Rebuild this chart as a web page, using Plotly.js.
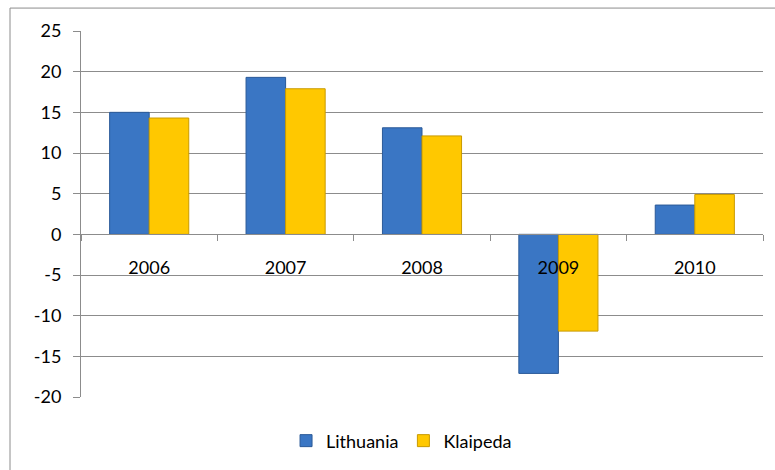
<!DOCTYPE html>
<html>
<head>
<meta charset="utf-8">
<script src="https://cdn.plot.ly/plotly-3.0.1.min.js"></script>
<style>
  html, body { margin: 0; padding: 0; background: #fff; }
  #chart { width: 775px; height: 470px; }
</style>
</head>
<body>
<div id="chart"></div>
<script>
const years = ["2006", "2007", "2008", "2009", "2010"];
const lithuania = [15.0, 19.3, 13.1, -17.1, 3.6];
const klaipeda = [14.3, 17.9, 12.1, -11.9, 4.9];

const yTicks = [-20, -15, -10, -5, 0, 5, 10, 15, 20, 25];

const font = "Lato, 'Open Sans', sans-serif";

const traces = [
  {
    type: "bar",
    name: "Lithuania",
    x: years,
    y: lithuania,
    marker: {
      color: "#3a76c4",
      line: { color: "#2b5a98", width: 1 }
    }
  },
  {
    type: "bar",
    name: "Klaipeda",
    x: years,
    y: klaipeda,
    marker: {
      color: "#ffc800",
      line: { color: "#c99a00", width: 1 }
    }
  }
];

const yMin = -20;
const yMax = 25;

const layout = {
  width: 775,
  height: 470,
  margin: { l: 81, r: 12, t: 31, b: 72 },
  paper_bgcolor: "#fff",
  plot_bgcolor: "#fff",
  font: { family: font, size: 18, color: "#000" },
  barmode: "group",
  bargap: 0.42,
  bargroupgap: 0,
  showlegend: true,
  legend: {
    orientation: "h",
    x: 0.47,
    xanchor: "center",
    y: -0.117,
    yanchor: "middle",
    font: { family: font, size: 18 },
    itemwidth: 30
  },
  xaxis: {
    type: "category",
    anchor: "free",
    position: (0 - yMin) / (yMax - yMin),
    showline: true,
    linecolor: "#8c8c8c",
    linewidth: 1,
    ticks: "outside",
    ticklen: 6,
    tickcolor: "#8c8c8c",
    tickson: "boundaries",
    ticklabelstandoff: 17,
    showgrid: false,
    zeroline: false,
    tickfont: { family: font, size: 18 }
  },
  yaxis: {
    range: [yMin, yMax],
    tickmode: "array",
    tickvals: yTicks,
    ticktext: yTicks.map(String),
    showline: true,
    linecolor: "#8c8c8c",
    linewidth: 1,
    ticks: "outside",
    ticklen: 7,
    tickcolor: "#8c8c8c",
    ticklabelstandoff: 8,
    showgrid: true,
    gridcolor: "#8c8c8c",
    gridwidth: 1,
    zeroline: false,
    tickfont: { family: font, size: 18 }
  },
  shapes: [
    {
      type: "rect",
      xref: "paper",
      yref: "paper",
      x0: (10 - 81) / 682,
      x1: 1.05,
      y0: -0.3,
      y1: (398 - 8) / 367,
      line: { color: "#8c8c8c", width: 1 },
      fillcolor: "rgba(0,0,0,0)",
      layer: "below"
    }
  ]
};

Plotly.newPlot("chart", traces, layout, { displayModeBar: false, staticPlot: true });
</script>
</body>
</html>
